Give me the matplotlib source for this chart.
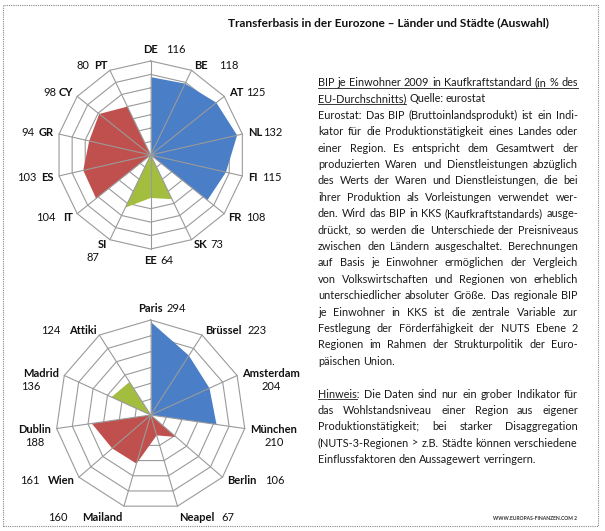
import matplotlib
matplotlib.use('Agg')
import matplotlib.pyplot as plt
import numpy as np
from matplotlib.patches import Rectangle

W, H = 605, 531
FONT = 'Lato'

# Top chart: countries, clockwise from the top
countries = ['DE', 'BE', 'AT', 'NL', 'FI', 'FR', 'SK', 'EE', 'SI', 'IT', 'ES', 'GR', 'CY', 'PT']
country_values = [116, 118, 125, 132, 115, 108, 73, 64, 87, 104, 103, 94, 98, 80]
country_groups = ['blue'] * 6 + ['green'] * 3 + ['red'] * 5

# Bottom chart: cities, clockwise from the top
cities = ['Paris', 'Brüssel', 'Amsterdam', 'München', 'Berlin', 'Neapel',
          'Mailand', 'Wien', 'Dublin', 'Madrid', 'Attiki']
city_values = [294, 223, 204, 210, 106, 67, 160, 161, 188, 136, 124]
city_groups = ['blue'] * 4 + ['red'] * 5 + ['green'] * 2

title = 'Transferbasis in der Eurozone – Länder und Städte (Auswahl)'

body_lines = [
    'BIP je Einwohner 2009 in Kaufkraftstandard (in % des',
    'EU-Durchschnitts) Quelle: eurostat',
    'Eurostat: Das BIP (Bruttoinlandsprodukt) ist ein Indi-',
    'kator für die Produktionstätigkeit eines Landes oder',
    'einer Region. Es entspricht dem Gesamtwert der',
    'produzierten Waren und Dienstleistungen abzüglich',
    'des Werts der Waren und Dienstleistungen, die bei',
    'ihrer Produktion als Vorleistungen verwendet wer-',
    'den. Wird das BIP in KKS (Kaufkraftstandards) ausge-',
    'drückt, so werden die Unterschiede der Preisniveaus',
    'zwischen den Ländern ausgeschaltet. Berechnungen',
    'auf Basis je Einwohner ermöglichen der Vergleich',
    'von Volkswirtschaften und Regionen von erheblich',
    'unterschiedlicher absoluter Größe. Das regionale BIP',
    'je Einwohner in KKS ist die zentrale Variable zur',
    'Festlegung der Förderfähigkeit der NUTS Ebene 2',
    'Regionen im Rahmen der Strukturpolitik der Euro-',
    'päischen Union.',
    '',
    'Hinweis: Die Daten sind nur ein grober Indikator für',
    'das Wohlstandsniveau einer Region aus eigener',
    'Produktionstätigkeit; bei starker Disaggregation',
    '(NUTS-3-Regionen > z.B. Städte können verschiedene',
    'Einflussfaktoren den Aussagewert verringern.',
]
left_lines = {1, 17, 23}          # paragraph ends, not justified
underlined = {0: None, 1: 'EU-Durchschnitts)', 19: 'Hinweis'}

COLORS = {'blue': '#4A7EC6', 'red': '#C0504D', 'green': '#A3BE3F'}
GRID = '#9a9a9a'

# where the value sits next to its category label: (side, offset px)
country_value_pos = [('right', 8), ('right', 12), ('right', 3), ('right', 1), ('right', 5),
                     ('right', 4), ('right', 3), ('right', 3), ('below', -10), ('left', 7),
                     ('left', 5), ('left', 4), ('left', 2), ('left', 5)]
city_value_pos = [('right', 4), ('right', 6), ('below', 0), ('below', 0), ('right', 9),
                  ('right', 7), ('left', 14), ('left', 8), ('below', 0), ('below', -10),
                  ('left', 8)]

fig = plt.figure(figsize=(W / 100, H / 100), dpi=100)
fig.patch.set_facecolor('white')


def fx(x):
    return x / W


def fy(y):
    return 1 - y / H


def draw_radar(cx, cy, R, labels, values, groups, rmax, step, value_pos):
    ax = fig.add_axes([fx(cx - R), fy(cy + R), 2 * R / W, 2 * R / H], projection='polar')
    ax.set_theta_zero_location('N')
    ax.set_theta_direction(-1)
    ax.set_axis_off()
    ax.set_ylim(0, rmax)
    n = len(labels)
    theta = np.linspace(0, 2 * np.pi, n, endpoint=False)
    closed = np.append(theta, theta[0])

    # spider web rings
    for level in np.arange(step, rmax + step / 2, step):
        ax.plot(closed, [level] * (n + 1), color=GRID, lw=0.8, zorder=1, clip_on=False)

    for g in ['blue', 'red', 'green']:
        v = [val if grp == g else 0 for val, grp in zip(values, groups)]
        ax.fill(closed, v + v[:1], color=COLORS[g], lw=0, zorder=2)

    # spokes on top of the fills
    for t in theta:
        ax.plot([t, t], [0, rmax], color=GRID, lw=0.8, zorder=3, clip_on=False)

    for t, lab, val, (side, off) in zip(theta, labels, values, value_pos):
        s, c = np.sin(t), np.cos(t)
        ha = 'left' if s > 0.05 else ('right' if s < -0.05 else 'center')
        va = 'bottom' if c > 0.95 else ('top' if c < -0.95 else 'center')
        txt = ax.text(t, rmax * 1.06, lab, ha=ha, va=va, fontsize=8,
                      fontweight='bold', family=FONT, color='#111111')
        if side == 'right':
            ax.annotate(str(val), xy=(1, 0.5), xycoords=txt, xytext=(off, 0),
                        textcoords='offset pixels', ha='left', va='center',
                        fontsize=8, family=FONT, color='#111111')
        elif side == 'left':
            ax.annotate(str(val), xy=(0, 0.5), xycoords=txt, xytext=(-off, 0),
                        textcoords='offset pixels', ha='right', va='center',
                        fontsize=8, family=FONT, color='#111111')
        else:
            ax.annotate(str(val), xy=(0.5, 0), xycoords=txt, xytext=(off, -2),
                        textcoords='offset pixels', ha='center', va='top',
                        fontsize=8, family=FONT, color='#111111')
    return ax


draw_radar(150.7, 155, 94, countries, country_values, country_groups, 140, 20, country_value_pos)
draw_radar(150.7, 415, 95, cities, city_values, city_groups, 300, 50, city_value_pos)

# text measuring
fig.canvas.draw()
renderer = fig.canvas.get_renderer()


def text_w(s, size, weight='normal'):
    t = fig.text(0, 0, s, fontsize=size, family=FONT, fontweight=weight)
    w = t.get_window_extent(renderer).width
    t.remove()
    return w


# title, scaled to the reference width
tw = text_w(title, 10, 'bold')
fig.text(fx(389), fy(23), title, fontsize=10 * 322 / tw, fontweight='bold',
         family=FONT, ha='center', va='center', color='#111111')

# justified text block
x0, x1 = 318, 578
box_w = x1 - x0
space10 = text_w('a a', 10) - text_w('aa', 10)
natural = [sum(text_w(w, 10) for w in ln.split()) + space10 * (len(ln.split()) - 1)
           for i, ln in enumerate(body_lines) if ln and i not in left_lines]
fs = 10 * box_w / max(natural) * 0.995
space = space10 * fs / 10

for i, line in enumerate(body_lines):
    if not line:
        continue
    words = line.split()
    widths = [text_w(w, fs) for w in words]
    if i in left_lines or len(words) == 1:
        gap = space
    else:
        gap = (box_w - sum(widths)) / (len(words) - 1)
    base = 83 + 16.4 * i + 3
    x = x0
    for w, ww in zip(words, widths):
        fig.text(fx(x), fy(base), w, fontsize=fs, family=FONT, ha='left',
                 va='baseline', color='#1a1a1a')
        x += ww + gap
    if i in underlined:
        part = underlined[i]
        uw = box_w if part is None else text_w(part, fs)
        fig.add_artist(plt.Line2D([fx(x0), fx(x0 + uw)], [fy(base + 1.8)] * 2,
                                  color='#1a1a1a', lw=0.6))

# small footer mark
fig.text(fx(577), fy(519), 'WWW.EUROPAS-FINANZEN.COM 2', fontsize=3.6, family=FONT,
         fontweight='bold', ha='right', va='center', color='#333333')

# dotted frame around the whole page
fig.add_artist(Rectangle((fx(3), fy(526)), (598 - 3) / W, (526 - 5) / H,
                         transform=fig.transFigure, fill=False, ec='#888888',
                         lw=0.8, ls=(0, (1, 1))))

fig.savefig('out.png', dpi=100)
